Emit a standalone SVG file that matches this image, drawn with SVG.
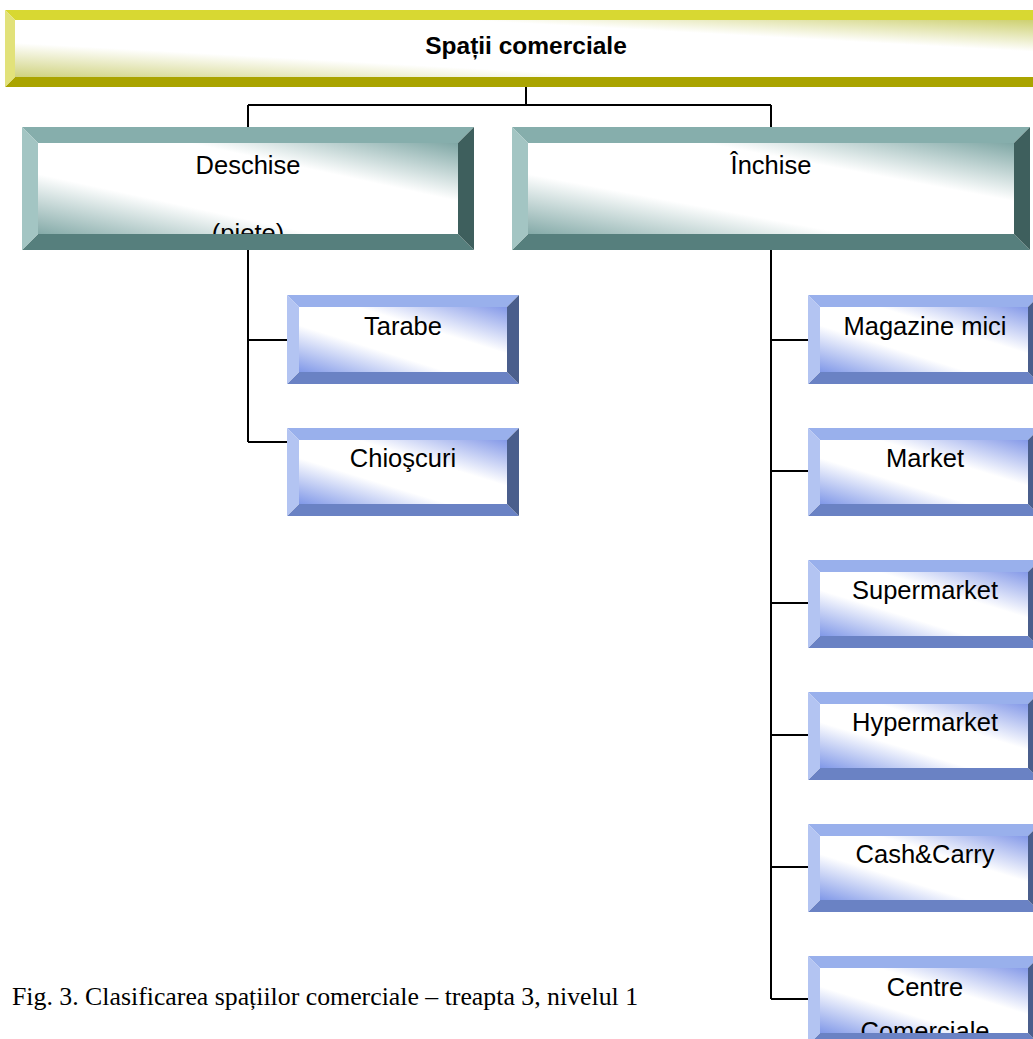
<svg xmlns="http://www.w3.org/2000/svg" width="1033" height="1039" viewBox="0 0 1033 1039">
<defs>
<style>
.lbl{font-family:"Liberation Sans",Arial,sans-serif;font-size:25.5px;fill:#000;text-anchor:middle}
.title{font-family:"Liberation Sans",Arial,sans-serif;font-size:24.5px;font-weight:bold;fill:#000;text-anchor:middle}
.cap{font-family:"Liberation Serif","Times New Roman",serif;font-size:25.8px;fill:#000}
.conn{stroke:#000;stroke-width:2;fill:none}
.yt{fill:#d8d832}.yl{fill:#e2e27a}.yr{fill:#a8a200}.yb{fill:#aaa400}
.tt{fill:#86aeac}.tl{fill:#a3c5c3}.tr{fill:#3e5f5d}.tb{fill:#567f7d}
.bt{fill:#99b0ec}.bl{fill:#b3c4f2}.br{fill:#4a5e8c}.bb{fill:#6a82c4}
</style>
<linearGradient id="gy" x1="0" y1="1" x2="1" y2="0">
<stop offset="0" stop-color="#cfd27e"/><stop offset="0.3" stop-color="#ffffff"/><stop offset="0.72" stop-color="#ffffff"/><stop offset="1" stop-color="#cdd070"/>
</linearGradient>
<linearGradient id="gt" x1="0" y1="1" x2="1" y2="0">
<stop offset="0" stop-color="#84aaa8"/><stop offset="0.33" stop-color="#ffffff"/><stop offset="0.68" stop-color="#ffffff"/><stop offset="1" stop-color="#7fa7a5"/>
</linearGradient>
<linearGradient id="gb" x1="0" y1="1" x2="1" y2="0">
<stop offset="0" stop-color="#8098e8"/><stop offset="0.36" stop-color="#ffffff"/><stop offset="0.64" stop-color="#ffffff"/><stop offset="1" stop-color="#8499e8"/>
</linearGradient>
<clipPath id="cD"><rect x="38" y="143" width="420" height="91"/></clipPath>
<clipPath id="cC"><rect x="820" y="968" width="208" height="65"/></clipPath>
</defs>
<rect width="1033" height="1039" fill="#fff"/>

<g id="connectors">
<path class="conn" d="M526 87 V105 M248 105 H771 M248 105 V127 M771 105 V127"/>
<path class="conn" d="M248 250 V442 M248 340 H287 M248 442 H287"/>
<path class="conn" stroke-width="3" d="M771 250 V999"/>
<path class="conn" d="M771 340 H808 M771 471 H808 M771 603 H808 M771 735 H808 M771 867 H808 M771 999 H808"/>
</g>

<g id="n-root">
<rect x="15" y="20" width="1022" height="57" fill="url(#gy)"/>
<polygon class="yt" points="5,10 1047,10 1037,20 15,20"/>
<polygon class="yb" points="5,87 1047,87 1037,77 15,77"/>
<polygon class="yl" points="5,10 15,20 15,77 5,87"/>
<polygon class="yr" points="1047,10 1037,20 1037,77 1047,87"/>
<text class="title" x="526" y="54">Spații comerciale</text>
</g>

<g id="n-deschise">
<rect x="38" y="143" width="420" height="91" fill="url(#gt)"/>
<g clip-path="url(#cD)">
<text class="lbl" x="248" y="174">Deschise</text>
<text class="lbl" x="248" y="242">(piete)</text>
</g>
<polygon class="tt" points="22,127 474,127 458,143 38,143"/>
<polygon class="tb" points="22,250 474,250 458,234 38,234"/>
<polygon class="tl" points="22,127 38,143 38,234 22,250"/>
<polygon class="tr" points="474,127 458,143 458,234 474,250"/>
</g>

<g id="n-inchise">
<rect x="528" y="143" width="486" height="91" fill="url(#gt)"/>
<polygon class="tt" points="512,127 1030,127 1014,143 528,143"/>
<polygon class="tb" points="512,250 1030,250 1014,234 528,234"/>
<polygon class="tl" points="512,127 528,143 528,234 512,250"/>
<polygon class="tr" points="1030,127 1014,143 1014,234 1030,250"/>
<text class="lbl" x="771" y="174">Închise</text>
</g>

<g id="n-tarabe">
<rect x="299" y="307" width="208" height="65" fill="url(#gb)"/>
<polygon class="bt" points="287,295 519,295 507,307 299,307"/>
<polygon class="bb" points="287,384 519,384 507,372 299,372"/>
<polygon class="bl" points="287,295 299,307 299,372 287,384"/>
<polygon class="br" points="519,295 507,307 507,372 519,384"/>
<text class="lbl" x="403" y="335">Tarabe</text>
</g>

<g id="n-chioscuri">
<rect x="299" y="440" width="208" height="64" fill="url(#gb)"/>
<polygon class="bt" points="287,428 519,428 507,440 299,440"/>
<polygon class="bb" points="287,516 519,516 507,504 299,504"/>
<polygon class="bl" points="287,428 299,440 299,504 287,516"/>
<polygon class="br" points="519,428 507,440 507,504 519,516"/>
<text class="lbl" x="403" y="467">Chioşcuri</text>
</g>

<g id="n-magazine">
<rect x="820" y="307" width="208" height="65" fill="url(#gb)"/>
<polygon class="bt" points="808,295 1040,295 1028,307 820,307"/>
<polygon class="bb" points="808,384 1040,384 1028,372 820,372"/>
<polygon class="bl" points="808,295 820,307 820,372 808,384"/>
<polygon class="br" points="1040,295 1028,307 1028,372 1040,384"/>
<text class="lbl" x="925" y="335">Magazine mici</text>
</g>

<g id="n-market">
<rect x="820" y="440" width="208" height="64" fill="url(#gb)"/>
<polygon class="bt" points="808,428 1040,428 1028,440 820,440"/>
<polygon class="bb" points="808,516 1040,516 1028,504 820,504"/>
<polygon class="bl" points="808,428 820,440 820,504 808,516"/>
<polygon class="br" points="1040,428 1028,440 1028,504 1040,516"/>
<text class="lbl" x="925" y="467">Market</text>
</g>

<g id="n-supermarket">
<rect x="820" y="572" width="208" height="64" fill="url(#gb)"/>
<polygon class="bt" points="808,560 1040,560 1028,572 820,572"/>
<polygon class="bb" points="808,648 1040,648 1028,636 820,636"/>
<polygon class="bl" points="808,560 820,572 820,636 808,648"/>
<polygon class="br" points="1040,560 1028,572 1028,636 1040,648"/>
<text class="lbl" x="925" y="599">Supermarket</text>
</g>

<g id="n-hypermarket">
<rect x="820" y="704" width="208" height="64" fill="url(#gb)"/>
<polygon class="bt" points="808,692 1040,692 1028,704 820,704"/>
<polygon class="bb" points="808,780 1040,780 1028,768 820,768"/>
<polygon class="bl" points="808,692 820,704 820,768 808,780"/>
<polygon class="br" points="1040,692 1028,704 1028,768 1040,780"/>
<text class="lbl" x="925" y="731">Hypermarket</text>
</g>

<g id="n-cashcarry">
<rect x="820" y="836" width="208" height="64" fill="url(#gb)"/>
<polygon class="bt" points="808,824 1040,824 1028,836 820,836"/>
<polygon class="bb" points="808,912 1040,912 1028,900 820,900"/>
<polygon class="bl" points="808,824 820,836 820,900 808,912"/>
<polygon class="br" points="1040,824 1028,836 1028,900 1040,912"/>
<text class="lbl" x="925" y="863">Cash&amp;Carry</text>
</g>

<g id="n-centre">
<rect x="820" y="968" width="208" height="65" fill="url(#gb)"/>
<g clip-path="url(#cC)">
<text class="lbl" x="925" y="996">Centre</text>
<text class="lbl" x="925" y="1040">Comerciale</text>
</g>
<polygon class="bt" points="808,956 1040,956 1028,968 820,968"/>
<polygon class="bb" points="808,1045 1040,1045 1028,1033 820,1033"/>
<polygon class="bl" points="808,956 820,968 820,1033 808,1045"/>
<polygon class="br" points="1040,956 1028,968 1028,1033 1040,1045"/>
</g>

<text class="cap" x="12" y="1005">Fig. 3. Clasificarea spațiilor comerciale – treapta 3, nivelul 1</text>
</svg>
